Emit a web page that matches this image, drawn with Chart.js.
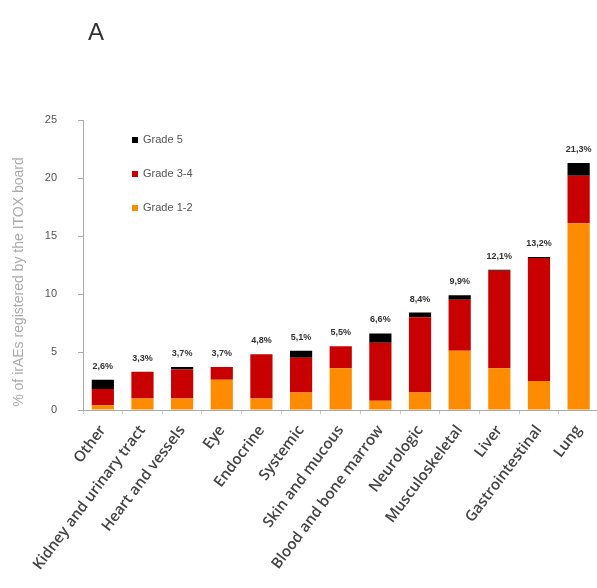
<!DOCTYPE html>
<html>
<head>
<meta charset="utf-8">
<script src="https://cdn.jsdelivr.net/npm/chart.js@4"></script>
<style>
    body { margin: 0; background: #fff; overflow: hidden; }
    #wrap { position: relative; width: 601px; height: 588px; }
</style>
</head>
<body>
<div id="wrap"><canvas id="myChart"></canvas></div>
<script>
'use strict';

let categories = ['Other', 'Kidney and urinary tract', 'Heart and vessels', 'Eye', 'Endocrine',
    'Systemic', 'Skin and mucous', 'Blood and bone marrow', 'Neurologic', 'Musculoskeletal',
    'Liver', 'Gastrointestinal', 'Lung'];

let grade12 = [0.4, 1.0, 1.0, 2.6, 1.0, 1.5, 3.6, 0.8, 1.5, 5.1, 3.6, 2.5, 16.1];
let grade34 = [1.4, 2.3, 2.5, 1.1, 3.8, 3.0, 1.9, 5.0, 6.5, 4.4, 8.4, 10.6, 4.1];
let grade5 = [0.8, 0, 0.2, 0, 0, 0.6, 0, 0.8, 0.4, 0.4, 0.1, 0.1, 1.1];
let totalLabels = ['2,6%', '3,3%', '3,7%', '3,7%', '4,8%', '5,1%', '5,5%', '6,6%', '8,4%',
    '9,9%', '12,1%', '13,2%', '21,3%'];
let yTicks = [0, 5, 10, 15, 20, 25];

let orange = '#ff8c00';
let red = '#c80000';
let black = '#000000';

// totals above bars, legend, y title and panel letter
let extras = {
    id: 'extras',
    afterDatasetsDraw(chart) {
        let ctx = chart.ctx;
        let top = chart.getDatasetMeta(2);
        ctx.save();
        ctx.fillStyle = '#333';
        ctx.font = 'bold 9px "Liberation Sans"';
        ctx.textAlign = 'center';
        ctx.textBaseline = 'bottom';
        for (let i = 0; i < totalLabels.length; i++) {
            let bar = top.data[i];
            ctx.fillText(totalLabels[i], bar.x, bar.y - 9);
        }

        let legend = [['Grade 5', black], ['Grade 3-4', red], ['Grade 1-2', orange]];
        ctx.font = '11px "Liberation Sans"';
        ctx.textAlign = 'left';
        ctx.textBaseline = 'middle';
        for (let i = 0; i < legend.length; i++) {
            let y = 140 + i * 34;
            ctx.fillStyle = legend[i][1];
            ctx.fillRect(132, y - 3, 6, 6);
            ctx.fillStyle = '#555';
            ctx.fillText(legend[i][0], 143, y);
        }

        ctx.translate(19, 282);
        ctx.rotate(-Math.PI / 2);
        ctx.textAlign = 'center';
        ctx.fillStyle = '#aaa';
        ctx.font = '14px "Liberation Sans"';
        ctx.fillText('% of irAEs registered by the ITOX board', 0, 0);
        ctx.setTransform(1, 0, 0, 1, 0, 0);

        ctx.fillStyle = '#333';
        ctx.font = '24px "Liberation Sans"';
        ctx.textAlign = 'left';
        ctx.fillText('A', 88, 33);
        ctx.restore();
    }
};

let ctx = document.getElementById('myChart').getContext('2d');
let myChart = new Chart(ctx, {
    type: 'bar',
    data: {
        labels: categories,
        datasets: [{
            label: 'Grade 1-2',
            data: grade12,
            backgroundColor: orange
        }, {
            label: 'Grade 3-4',
            data: grade34,
            backgroundColor: red
        }, {
            label: 'Grade 5',
            data: grade5,
            backgroundColor: black
        }]
    },
    options: {
        responsive: true,
        maintainAspectRatio: false,
        animation: false,
        layout: { padding: { top: 120, left: 0, right: 0, bottom: 0 } },
        datasets: {
            bar: { barPercentage: 0.56, categoryPercentage: 1 }
        },
        plugins: {
            legend: { display: false },
            tooltip: { enabled: false }
        },
        scales: {
            x: {
                stacked: true,
                afterFit(scale) { scale.height = 178; },
                border: { color: '#aaa' },
                grid: { drawOnChartArea: false, tickLength: 4, color: '#b8c8e0' },
                ticks: {
                    minRotation: 53,
                    maxRotation: 53,
                    autoSkip: false,
                    padding: 8,
                    color: '#444',
                    font: { family: 'Open Sans', size: 15, weight: '600' }
                }
            },
            y: {
                stacked: true,
                min: 0,
                max: 25,
                afterFit(scale) { scale.width = 83; },
                afterBuildTicks(scale) { scale.ticks = yTicks.map(v => ({ value: v })); },
                border: { color: '#aaa' },
                grid: { drawOnChartArea: false, tickLength: 5, color: '#aaa' },
                ticks: {
                    padding: 21,
                    color: '#555',
                    font: { family: 'Liberation Sans', size: 11 }
                }
            }
        }
    },
    plugins: [extras]
});
</script>
</body>
</html>
